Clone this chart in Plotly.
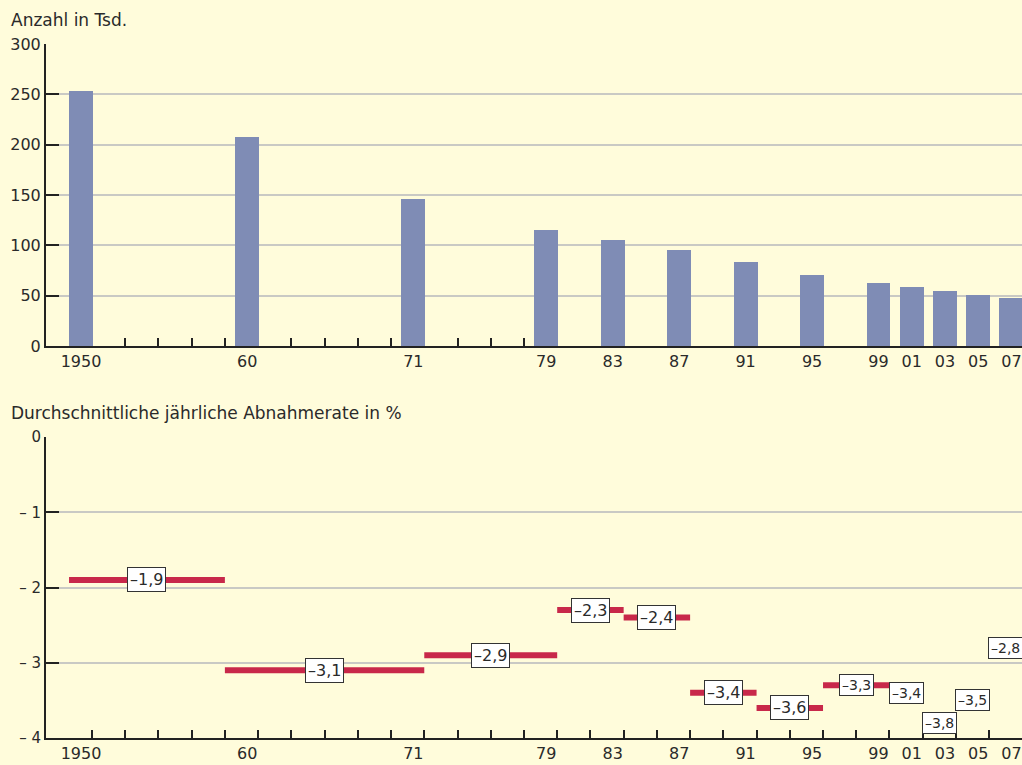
import plotly.graph_objects as go

# ---- data ----
years = ["1950", "60", "71", "79", "83", "87", "91", "95", "99", "01", "03", "05", "07"]
slots = [0, 5, 10, 14, 16, 18, 20, 22, 24, 25, 26, 27, 28]          # position on the (non-linear) year axis
counts = [253, 208, 146, 115, 105, 95, 83, 71, 62.5, 58.5, 54.5, 50.6, 47.6]   # Anzahl in Tsd.
rates = [-1.9, -3.1, -2.9, -2.3, -2.4, -3.4, -3.6, -3.3, -3.4, -3.8, -3.5, -2.8]  # % p.a. between years
rate_labels = ["–1,9", "–3,1", "–2,9", "–2,3", "–2,4", "–3,4", "–3,6", "–3,3", "–3,4", "–3,8", "–3,5", "–2,8"]
top_ticks = [0, 50, 100, 150, 200, 250, 300]
bot_ticks = [0, -1, -2, -3, -4]
bot_ticktext = ["0", "– 1", "– 2", "– 3", "– 4"]

BG = "#FFFCDB"
BAR = "#7F8CB5"
RED = "#C8284A"
GRID = "#C9C9C4"
TXT = "#2a2a2a"
FONT = "DejaVu Sans"

W, H = 1022, 765
BARW = 0.72
OFF = 0.33   # year-boundary tick offset relative to bar centre

fig = go.Figure()

fig.add_trace(go.Bar(x=slots, y=counts, width=BARW, marker=dict(color=BAR, line=dict(width=0)),
                     xaxis="x", yaxis="y", hoverinfo="skip"))

# period edges on the year axis (the 1950–60 period is drawn ending one tick before the 60 bar)
edges = [slots[0] - BARW / 2] + [s + OFF for s in slots[1:]]
edges[1] = slots[1] - 1 + OFF

seg_x, seg_y = [], []
mids = []
for i, r in enumerate(rates):
    start, end = edges[i], edges[i + 1]
    seg_x += [start, end, None]
    seg_y += [r, r, None]
    mids.append((start + end) / 2)
fig.add_trace(go.Scatter(x=seg_x, y=seg_y, mode="lines", line=dict(color=RED, width=6),
                         xaxis="x2", yaxis="y2", hoverinfo="skip", connectgaps=False))

annotations = []
for i, (m, r, lab) in enumerate(zip(mids, rates, rate_labels)):
    small = i >= 7
    annotations.append(dict(x=m, y=r, xref="x2", yref="y2", text=lab, showarrow=False,
                            font=dict(family=FONT, size=14 if small else 16, color=TXT),
                            bgcolor="white", bordercolor="#333", borderwidth=1,
                            borderpad=2 if small else 2))

def px_x(p):
    return (p - 46) / (W - 46)

def px_y(p):
    return 1 - p / H

annotations.append(dict(x=px_x(9), y=px_y(20), xref="paper", yref="paper", text="Anzahl in Tsd.",
                        showarrow=False, xanchor="left", yanchor="middle",
                        font=dict(family=FONT, size=17, color=TXT)))
annotations.append(dict(x=px_x(9), y=px_y(413), xref="paper", yref="paper",
                        text="Durchschnittliche jährliche Abnahmerate in %",
                        showarrow=False, xanchor="left", yanchor="middle",
                        font=dict(family=FONT, size=17, color=TXT)))

xr = [(46 - 81) / 33.23, (1022 - 81) / 33.23]

top_minor = [s + OFF for a, b in zip(slots[:3], slots[1:4]) for s in range(a + 1, b)]
bot_minor = [s + OFF for s in range(0, 29)]

common_x = dict(range=xr, tickmode="array", tickvals=slots, ticktext=years, ticks="",
                showgrid=False, zeroline=False, showline=True, linecolor="#222", linewidth=2,
                tickfont=dict(family=FONT, size=16, color=TXT), fixedrange=True, automargin=False)

fig.update_layout(
    width=W, height=H, autosize=False, paper_bgcolor=BG, plot_bgcolor=BG, showlegend=False,
    margin=dict(l=46, r=0, t=0, b=0, pad=0, autoexpand=False),
    bargap=0,
    xaxis=dict(**common_x, domain=[0, 1], anchor="y",
               minor=dict(tickmode="array", tickvals=top_minor, ticks="inside", ticklen=8,
                          tickcolor="#222", tickwidth=1.5, showgrid=False)),
    yaxis=dict(domain=[1 - 346 / H, 1 - 44 / H], range=[0, 300], tickmode="array",
               tickvals=top_ticks, ticks="inside", ticklen=13, tickwidth=2, tickcolor="#222",
               showgrid=True, gridcolor=GRID, gridwidth=1.5, zeroline=False,
               showline=True, linecolor="#222", linewidth=2, anchor="x", automargin=False,
               tickfont=dict(family=FONT, size=16, color=TXT), fixedrange=True),
    xaxis2=dict(**common_x, domain=[0, 1], anchor="y2",
                minor=dict(tickmode="array", tickvals=bot_minor, ticks="inside", ticklen=8,
                           tickcolor="#222", tickwidth=1.5, showgrid=False)),
    yaxis2=dict(domain=[1 - 738 / H, 1 - 437 / H], range=[-4, 0], tickmode="array",
                tickvals=bot_ticks, ticktext=bot_ticktext, ticks="inside", ticklen=13,
                tickwidth=2, tickcolor="#222",
                showgrid=True, gridcolor=GRID, gridwidth=1.5, zeroline=False,
                showline=True, linecolor="#222", linewidth=2, anchor="x2", automargin=False,
                tickfont=dict(family=FONT, size=15, color=TXT), fixedrange=True),
    annotations=annotations,
)

fig.write_html(
    "out.html",
    config={"displayModeBar": False},
    post_script=(
        "document.documentElement.style.margin='0';document.documentElement.style.padding='0';"
        "document.documentElement.style.overflow='hidden';"
        "document.body.style.margin='0';document.body.style.padding='0';"
        "document.body.style.overflow='hidden';"
    ),
)
